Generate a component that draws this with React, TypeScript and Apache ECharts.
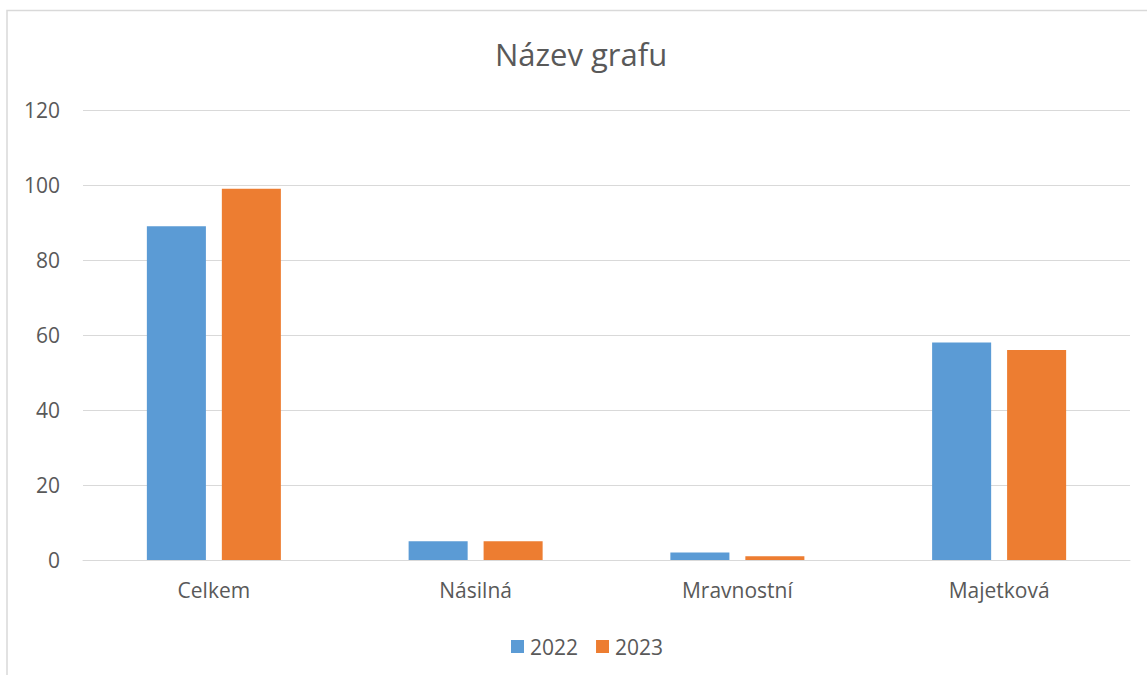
import React, { useEffect, useRef } from "react";
import * as echarts from "echarts";

const categories = ["Celkem", "Násilná", "Mravnostní", "Majetková"];
const series2022 = [89, 5, 2, 58];
const series2023 = [99, 5, 1, 56];
const seriesNames = ["2022", "2023"];
const yMin = 0;
const yMax = 120;
const yStep = 20;

const FONT = "'Open Sans', 'Noto Sans', sans-serif";
const TEXT = "#595959";
const GRID = "#D9D9D9";

export default function App() {
  const ref = useRef<HTMLDivElement>(null);
  useEffect(() => {
    if (!ref.current) return;
    const chart = echarts.init(ref.current, undefined, { renderer: "svg" });
    chart.setOption({
      animation: false,
      backgroundColor: "#ffffff",
      textStyle: { fontFamily: FONT },
      title: {
        text: "Název grafu",
        left: 495,
        top: 38,
        padding: 0,
        textStyle: { fontFamily: FONT, fontSize: 31, fontWeight: "normal", color: TEXT },
      },
      legend: {
        data: seriesNames,
        left: 511,
        top: 636,
        padding: 0,
        itemWidth: 13,
        itemHeight: 13,
        itemGap: 18,
        icon: "rect",
        textStyle: { fontFamily: FONT, fontSize: 21, color: TEXT, padding: [0, 0, 0, 1] },
      },
      grid: { left: 83, right: 17, top: 110, bottom: 115, containLabel: false },
      xAxis: {
        type: "category",
        data: categories,
        axisLine: { show: true, lineStyle: { color: GRID, width: 1 } },
        axisTick: { show: false },
        axisLabel: { color: TEXT, fontFamily: FONT, fontSize: 21, margin: 19 },
        splitLine: { show: false },
      },
      yAxis: {
        type: "value",
        min: yMin,
        max: yMax,
        interval: yStep,
        axisLine: { show: false },
        axisTick: { show: false },
        axisLabel: { color: TEXT, fontFamily: FONT, fontSize: 21, margin: 23 },
        splitLine: { show: true, lineStyle: { color: GRID, width: 1 } },
      },
      series: [
        {
          name: seriesNames[0],
          type: "bar",
          data: series2022,
          itemStyle: { color: "#5B9BD5" },
          barGap: "27%",
          barCategoryGap: "48.8%",
        },
        {
          name: seriesNames[1],
          type: "bar",
          data: series2023,
          itemStyle: { color: "#ED7D31" },
          barGap: "27%",
          barCategoryGap: "48.8%",
        },
      ],
      graphic: [
        {
          type: "rect",
          silent: true,
          shape: { x: 7, y: 10.5, width: 1300, height: 800 },
          style: { fill: "none", stroke: "#D9D9D9", lineWidth: 1.5 },
        },
      ],
    });
    return () => chart.dispose();
  }, []);
  return (
    <div
      ref={ref}
      style={{ position: "fixed", left: 0, top: 0, width: 1147, height: 675 }}
    />
  );
}
